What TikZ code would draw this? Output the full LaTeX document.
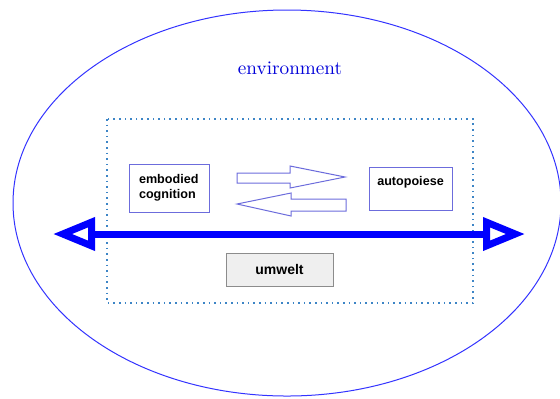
\documentclass[tikz,border=0pt]{standalone}
\usepackage{fontspec}
\usepackage{tikz}
\usetikzlibrary{arrows.meta,positioning}
\newfontfamily\labelfont{Liberation Sans}
\definecolor{EnvBlue}{HTML}{3333FF}
\definecolor{BoxBlue}{HTML}{6C6CDC}
\definecolor{DotBlue}{HTML}{3D85C6}
\definecolor{AxisBlue}{HTML}{0000FF}
\definecolor{UmGray}{HTML}{EFEFEF}
\definecolor{UmEdge}{HTML}{8C8C8C}

\begin{document}
\begin{tikzpicture}[
  x=0.5pt,y=-0.5pt,
  box/.style={rectangle,draw=BoxBlue,line width=0.5pt,fill=white,inner sep=0pt,font=\labelfont\bfseries\fontsize{6.3}{7.5}\selectfont},
  flow/.style={draw=BoxBlue,line width=0.5pt,fill=white},
  axis/.style={{Triangle[open,fill=white,length=21pt,width=16pt]}-{Triangle[open,fill=white,length=21pt,width=16pt]},line width=3.5pt,color=AxisBlue}
]
\useasboundingbox (0,0) rectangle (560,398);
% environment
\draw[EnvBlue,line width=0.5pt] (287,203) ellipse [x radius=274,y radius=193];
\node[text=AxisBlue!85!black,font=\fontsize{9.6}{11}\selectfont] (env) at (290,68) {environment};
% system border
\draw[DotBlue,line width=0.8pt,dotted] (107,119) rectangle (473,303);
\node[box,minimum width=40pt,minimum height=24pt,text width=30pt,align=left] (embodied) at (169,188) {embodied\\cognition};
\node[box,minimum width=41.5pt,minimum height=21.5pt,align=center] (autopoiese) at (410.5,188.5) {autopoiese\\\mbox{}};
\node[box,draw=UmEdge,fill=UmGray,minimum width=53.5pt,minimum height=16.5pt,font=\labelfont\bfseries\fontsize{7}{8.4}\selectfont] (umwelt) at (279.5,269.5) {umwelt};
% coupling arrows
\draw[flow] (237,173) -- (290,173) -- (290,166) -- (345,177) -- (290,188) -- (290,183) -- (237,183) -- cycle;
\draw[flow] (346,199) -- (291,199) -- (291,193) -- (237,204) -- (291,216) -- (291,211) -- (346,211) -- cycle;
% axis
\coordinate (axisL) at (53,234);
\coordinate (axisR) at (525,234);
\draw[axis] (axisL) -- (axisR);
\end{tikzpicture}
\end{document}
